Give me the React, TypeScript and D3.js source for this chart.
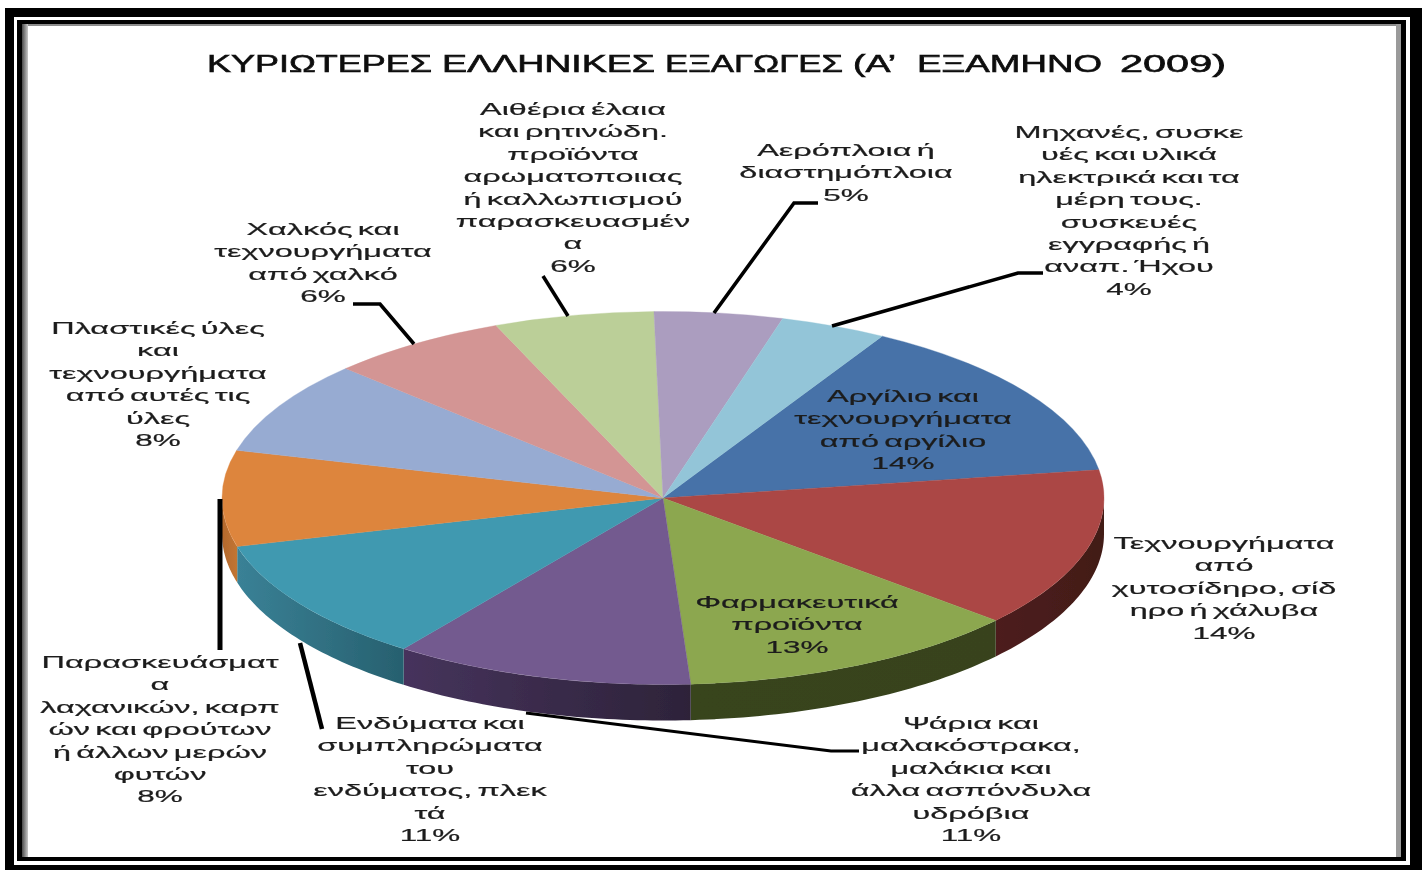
import React from 'react';
import * as d3 from 'd3';

const titleWords = ['ΚΥΡΙΩΤΕΡΕΣ', 'ΕΛΛΗΝΙΚΕΣ', 'ΕΞΑΓΩΓΕΣ', '(Α’', 'ΕΞΑΜΗΝΟ', '2009)'];
// left edge and width of each title word
const titleWordBoxes = [[207, 225], [442, 213], [665, 178], [853, 43], [917, 185], [1120, 106]];

// share of exports
const shares = [14.3, 13.8, 12.6, 11, 10.8, 8.3, 8.1, 6.6, 5.85, 4.7, 3.9];
// the percentages printed on the chart
const percentLabels = ['14%', '14%', '13%', '11%', '11%', '8%', '8%', '6%', '6%', '5%', '4%'];

const categoryLines = [
  ['Αργίλιο και', 'τεχνουργήματα', 'από αργίλιο'],
  ['Τεχνουργήματα', 'από', 'χυτοσίδηρο, σίδ', 'ηρο ή χάλυβα'],
  ['Φαρμακευτικά', 'προϊόντα'],
  ['Ψάρια και', 'μαλακόστρακα,', 'μαλάκια και', 'άλλα ασπόνδυλα', 'υδρόβια'],
  ['Ενδύματα και', 'συμπληρώματα', 'του', 'ενδύματος, πλεκ', 'τά'],
  ['Παρασκευάσματ', 'α', 'λαχανικών, καρπ', 'ών και φρούτων', 'ή άλλων μερών', 'φυτών'],
  ['Πλαστικές ύλες', 'και', 'τεχνουργήματα', 'από αυτές τις', 'ύλες'],
  ['Χαλκός και', 'τεχνουργήματα', 'από χαλκό'],
  ['Αιθέρια έλαια', 'και ρητινώδη.', 'προϊόντα', 'αρωματοποιιας', 'ή καλλωπισμού', 'παρασκευασμέν', 'α'],
  ['Αερόπλοια ή', 'διαστημόπλοια'],
  ['Μηχανές, συσκε', 'υές και υλικά', 'ηλεκτρικά και τα', 'μέρη τους.', 'συσκευές', 'εγγραφής ή', 'αναπ. Ήχου'],
];

const topColors = ['#4672a8', '#ab4744', '#8ca750', '#735a8f', '#4199b0', '#dd853e', '#97abd2', '#d39594', '#bbcf98', '#ab9dbf', '#93c5d8'];
const wallLeftColors = ['#2b4668', '#4d1f1c', '#38441f', '#46335c', '#3a8196', '#b4692e', '#5a6a85', '#8a5f5e', '#77855f', '#6b6079', '#5c7d88'];
const wallRightColors = ['#2b4668', '#421a18', '#37431e', '#2d2339', '#27606f', '#c27532', '#5a6a85', '#8a5f5e', '#77855f', '#6b6079', '#5c7d88'];

// label centre x and centre y of the first line
const labelAnchors = [
  [903, 396], [1224, 543], [797, 602], [971, 723], [430, 723], [160, 662],
  [158, 328], [323, 229], [573, 109], [846, 150], [1129, 132],
];
const lineStep = 22.4;

// leader lines [from slice edge ... to label]
const leaders = [
  { width: 3.6, pts: [[832, 326], [1018, 273], [1043, 273]] },
  { width: 3.6, pts: [[714, 313], [794, 203], [818, 203]] },
  { width: 3.6, pts: [[568, 316], [543, 276]] },
  { width: 3.6, pts: [[414, 344], [380, 304], [353, 304]] },
  { width: 5, pts: [[220, 499], [220, 650]] },
  { width: 4.5, pts: [[300, 643], [322, 729]] },
  { width: 3, pts: [[526, 713], [831, 751], [859, 751]] },
];

const width = 1427;
const height = 870;
const cx = 663;
const cy = 498;
const rx = 441;
const ry = 186.5;
const depth = 36;
const startDeg = 29.8;

const pie = d3.pie<number>().sort(null).value(d => d)
  .startAngle((startDeg * Math.PI) / 180)
  .endAngle(((startDeg + 360) * Math.PI) / 180);
const arcs = pie(shares);
const arc = d3.arc<d3.PieArcDatum<number>>().innerRadius(0).outerRadius(rx);
const polyline = d3.line();

// side wall of one slice, only the part on the front half of the pie
const wallPath = (a: d3.PieArcDatum<number>) => {
  const from = Math.max(a.startAngle, Math.PI / 2);
  const to = Math.min(a.endAngle, (3 * Math.PI) / 2);
  if (to <= from) return null;
  const steps = d3.range(0, 41).map(i => from + ((to - from) * i) / 40);
  const rim = steps.map(t => [cx + rx * Math.sin(t), cy - ry * Math.cos(t)] as [number, number]);
  const low = rim.map(([x, y]) => [x, y + depth] as [number, number]).reverse();
  return polyline([...rim, ...low]) + 'Z';
};

const TextLine = ({ x, y, text, sx }: { x: number; y: number; text: string; sx: number }) => (
  <text
    transform={`translate(${x},${y}) scale(${sx},1)`}
    textAnchor="middle"
    dominantBaseline="central"
    fontSize={17}
    wordSpacing={-2}
    fill="#1c1c1c"
    stroke="#1c1c1c"
    strokeWidth={0.2}
  >
    {text}
  </text>
);

export default function App() {
  return (
    <svg
      width={width}
      height={height}
      style={{ position: 'absolute', left: 0, top: 0, display: 'block' }}
      fontFamily="'Liberation Sans', sans-serif"
    >
      <defs>
        <filter id="soft" x="-5%" y="-5%" width="110%" height="110%">
          <feGaussianBlur stdDeviation="0.75" />
        </filter>
        <linearGradient id="leftBand" x1="0" x2="1" y1="0" y2="0">
          <stop offset="0" stopColor="#4a4a4a" />
          <stop offset="1" stopColor="#c8c8c8" />
        </linearGradient>
        {arcs.map((a, i) => (
          <linearGradient key={i} id={`wall${i}`} x1="0" x2="1" y1="0" y2="0">
            <stop offset="0" stopColor={wallLeftColors[i]} />
            <stop offset="1" stopColor={wallRightColors[i]} />
          </linearGradient>
        ))}
      </defs>

      <rect width={width} height={height} fill="#fff" />
      {/* double black frame */}
      <rect x={5} y={8} width={1417} height={862} fill="#000" />
      <rect x={14} y={17} width={1396} height={848} fill="#fff" />
      <rect x={17} y={20} width={1389} height={841} fill="#000" />
      <rect x={22} y={24} width={1379} height={833} fill="#fff" />
      <rect x={22} y={24} width={1379} height={2} fill="#8c8c8c" />
      <rect x={22} y={24} width={6} height={833} fill="url(#leftBand)" />
      <rect x={1396} y={24} width={5} height={833} fill="#9a9a9a" />

      <g filter="url(#soft)">
        {titleWords.map((w, i) => (
          <text
            key={i}
            x={titleWordBoxes[i][0]}
            y={72}
            textLength={titleWordBoxes[i][1]}
            lengthAdjust="spacingAndGlyphs"
            fontSize={23}
            fill="#111"
            stroke="#111"
            strokeWidth={0.6}
          >
            {w}
          </text>
        ))}

        {arcs.map((a, i) => {
          const d = wallPath(a);
          return d ? <path key={i} d={d} fill={`url(#wall${i})`} /> : null;
        })}

        <g transform={`translate(${cx},${cy}) scale(1,${ry / rx})`}>
          {arcs.map((a, i) => (
            <path key={i} d={arc(a) ?? ''} fill={topColors[i]} stroke={topColors[i]} strokeWidth={0.5} />
          ))}
        </g>

        {leaders.map((l, i) => (
          <path
            key={i}
            d={polyline(l.pts as [number, number][]) ?? ''}
            fill="none"
            stroke="#000"
            strokeWidth={l.width}
          />
        ))}

        {categoryLines.map((lines, i) => {
          const [x, y] = labelAnchors[i];
          return (
            <g key={i}>
              {lines.map((t, j) => (
                <TextLine key={j} x={x} y={y + j * lineStep} text={t} sx={1.91} />
              ))}
              <TextLine x={x} y={y + lines.length * lineStep} text={percentLabels[i]} sx={1.85} />
            </g>
          );
        })}
      </g>
    </svg>
  );
}
